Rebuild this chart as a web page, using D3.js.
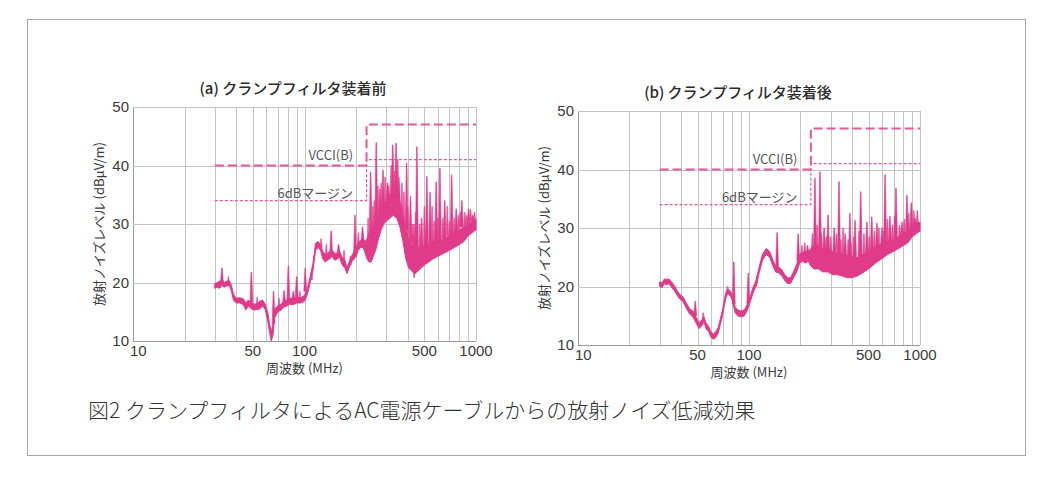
<!DOCTYPE html>
<html><head><meta charset="utf-8">
<script src="https://cdn.jsdelivr.net/npm/d3@7"></script>
<style>body{margin:0;background:#fff}</style>
</head><body><svg id="c" width="1060" height="480"></svg>
<script>
// ---------- data ----------
const xTickValues = [10, 50, 100, 500, 1000];
const xTickLabels = ["10", "50", "100", "500", "1000"];
const yTickValues = [10, 20, 30, 40, 50];
const gridFreqs = [10,20,30,40,50,60,70,80,90,100,200,300,400,500,600,700,800,900,1000];
const vcciFreq = [30, 230, 230, 1000];
const vcciLevel = [40, 40, 47, 47];
const marginFreq = [30, 230, 230, 1000];
const marginLevel = [34, 34, 41, 41];
const titleA = "(a) クランプフィルタ装着前";
const titleB = "(b) クランプフィルタ装着後";
const xTitle = "周波数 (MHz)";
const yTitle = "放射ノイズレベル (dBμV/m)";
const vcciLabel = "VCCI(B)";
const marginLabel = "6dBマージン";
const caption = "図2 クランプフィルタによるAC電源ケーブルからの放射ノイズ低減効果";

// (a) before: noise band (frequency MHz, lower dB, upper dB)
const freqA = [30,31,32,33,34,35,36.5,37.5,38.5,40,42,44,45.5,47,49,51,53,55,57,59,61,62.5,64,65.5,67,70,73,76,79,82,86,90,95,100,104,108,112,116,120,124,128,132,136,140,145,150,155,160,166,172,177,182,188,194,200,206,212,220,226,232,238,245,252,260,270,280,290,300,315,330,345,360,375,390,405,420,440,460,480,500,530,560,600,650,700,750,800,850,900,950,1000];
const loA = [19.0,19.2,19.0,19.5,19.2,19.4,19.5,18.5,17.0,16.5,16.5,16.2,15.3,16.0,15.5,15.3,15.4,15.5,16.0,15.4,13.5,11.5,10.0,11.0,14.0,15.0,15.3,15.8,16.0,16.3,16.2,16.5,16.5,16.8,18.0,20.0,22.0,25.5,26.0,25.5,24.0,23.5,23.8,24.0,24.5,23.8,24.0,24.3,23.0,22.5,21.5,22.5,23.5,24.0,24.5,25.5,26.0,26.0,25.0,24.0,23.5,23.5,24.5,25.5,27.5,29.0,30.0,30.5,31.0,31.5,31.0,29.5,27.0,24.0,22.5,22.0,21.5,22.0,22.5,23.0,23.5,24.0,24.5,25.0,25.5,26.0,26.5,27.0,28.0,28.5,29.0];
const hiA = [19.8,20.0,20.2,20.5,20.0,20.2,20.3,19.5,18.0,17.3,17.4,17.2,16.5,17.0,16.5,16.3,16.4,16.8,17.0,16.3,15.0,13.0,11.5,13.0,15.5,16.0,16.3,16.8,17.0,17.3,17.3,17.5,17.4,17.8,19.0,21.0,23.3,26.7,27.0,26.5,25.3,24.8,25.0,25.3,25.5,25.0,25.0,25.3,24.3,23.8,22.5,23.5,24.5,25.2,26.0,26.8,27.2,27.5,27.0,27.5,28.5,29.0,29.5,30.0,31.0,32.5,33.5,34.0,35.0,35.5,35.5,34.0,31.5,29.0,27.5,26.5,26.0,26.0,26.0,26.5,26.5,27.0,27.0,27.5,28.0,28.5,29.0,29.5,30.0,30.5,30.8];
// (a) tall spikes: frequency, base dB, peak dB
const spikeFreqA = [33,49,66,76,80.5,86,90,101,143,158,197,218,243,262,275,287,305,327,342,355,394,415,435,452,482,517,540,586,616,657,721,767,827,905,955];
const spikeBaseA = [20,16.5,13,16.5,17,17,17.5,18.5,25,25,25,27,28,30,31,32.5,34,35,35,34,29,27,26,26,26,26.5,26.5,27,27,27.5,28,28.5,29.5,30,30.5];
const spikePeakA = [22.5,21.8,18.5,18.6,22.8,18.5,21.0,22.5,28.8,26.5,31.5,29.5,38.9,43.9,36.0,39.2,37.0,43.5,43.8,38.0,40.4,34.7,30.0,43.2,31.0,38.1,35.4,37.2,39.5,34.0,38.4,32.6,34.0,32.6,31.5];
// (a) minor spikes and dips
const minorFreqA = [36,53,71,94,110,125,134,170,185,206,235,250,255,268,280,295,310,320,335,350,370,380,400,425,436,445,470,500,510,555,570,600,640,680,700,745,790,810,860,880,930,980];
const minorBaseA = [19.5,16,15.5,17,20.5,26,24.5,23.5,23,26.5,25,28.5,29,30.5,32,33,34.5,35,35.5,35,32,30,28,26.5,22,26,26,26.5,26.5,27,27,27,27.5,28,28,28.5,29,29.5,29.5,30,30.5,30.8];
const minorPeakA = [21,17.5,17.3,18.5,22,27.5,26.5,25.5,24.5,28.5,31,33,34,36.5,37,38,36.5,40,39,41,37,35.5,33,30,20.8,32,30,33,29,33,30.5,31,31,33,30.5,31,31.5,32,32,31.5,32.5,32];

// (b) after: noise band
const freqB = [30,31,32,33,34,35,36.5,38,39.5,41,43,45,47,49,51,53,54.5,56,58,60,62,64,66,68,70,72,74,76,78,80,83,86,90,94,98,102,106,110,115,120,126,132,138,143,150,156,162,168,175,182,190,198,206,214,222,230,240,255,270,290,310,330,350,375,400,430,460,500,550,600,650,700,750,800,850,900,950,1000];
const loB = [20.0,19.8,20.5,20.3,20.5,20.0,19.3,18.5,17.8,17.5,16.3,15.3,14.8,13.8,12.8,13.3,14.0,12.8,12.3,11.3,11.0,11.3,12.0,13.5,15.0,17.0,18.5,18.7,18.3,17.5,15.5,15.0,14.8,15.0,16.0,17.5,19.0,20.0,22.5,24.5,25.5,25.0,23.5,22.5,22.3,21.8,21.0,20.5,20.5,21.5,22.5,24.0,24.3,24.0,24.3,23.5,23.0,23.0,22.5,22.5,22.0,22.0,21.8,21.5,21.5,21.8,22.3,23.0,24.0,24.8,25.5,26.0,26.5,27.0,27.5,28.5,29.0,29.5];
const hiB = [20.8,20.6,21.3,21.2,21.3,20.9,20.2,19.3,18.6,18.3,17.2,16.2,15.8,14.8,13.8,14.3,14.8,13.8,13.2,12.2,11.9,12.3,13.0,14.5,16.0,18.0,19.4,19.5,19.2,18.5,16.5,16.0,15.8,16.0,17.0,18.5,20.0,21.0,23.5,25.5,26.5,26.0,24.5,23.5,23.3,22.8,22.0,21.5,21.5,22.5,23.8,25.5,25.8,26.0,26.0,26.5,27.0,27.0,26.5,26.5,26.0,25.8,25.5,25.3,25.0,25.0,25.5,26.0,26.8,27.3,27.8,28.0,28.5,29.0,29.5,30.3,30.8,31.0];
// (b) tall spikes
const spikeFreqB = [48.5,81.5,99,146,194,220,243,260,275,290,315,336,365,389,417,450,489,522,560,600,625,667,724,785,839,890,935];
const spikeBaseB = [15,17,17,23.5,24.5,25.5,26,26.5,26,26,25.5,25.5,25.3,25,25,25.3,25.8,26.3,26.8,27.2,27.5,27.8,28.2,28.8,29.2,30,30.5];
const spikePeakB = [17.5,24.2,22.3,29.2,29.0,27.0,38.5,39.6,30.0,32.2,30.0,37.9,29.0,32.5,31.3,36.2,31.0,31.9,30.8,30.0,39.1,32.0,36.8,31.0,35.6,34.3,31.7];
// (b) minor spikes and dips
const minorFreqB = [54,75,111,204,212,235,250,265,283,300,325,345,355,380,395,410,440,470,505,540,575,615,645,690,710,760,810,860,920,965];
const minorBaseB = [14.5,19,20.5,25.5,25.8,26.5,27,26.8,26.5,26.3,26,25.5,25.5,25.3,25,25,25.2,25.7,26,26.5,27,27.3,27.6,28,28,28.5,29,29.5,30.3,30.8];
const minorPeakB = [15.5,20,21.8,27,27.5,29,30.5,29,28.5,28.5,29,28,30,28,27.5,28.5,29.5,29,28.5,29.5,30,29.5,31.5,30.5,32,30.5,31.5,32.5,33,33];

// ---------- drawing ----------
const svg = d3.select("#c");
const traceColor = "#e03a8a";
const limitColor = "#e8579b";
const gridColor = "#c4c4c4";
const textColor = "#3a3a3a";
const numFont = "'Liberation Sans', Arial, sans-serif";
const jpFont = "'Noto Sans CJK JP', 'Noto Sans', sans-serif";

svg.append("rect").attr("x", 27.5).attr("y", 19.5).attr("width", 998).attr("height", 436)
  .attr("fill", "none").attr("stroke", "#a8a8a8").attr("stroke-width", 1);

function panel(opt) {
  const x = d3.scaleLog().domain([10, 1000]).range([opt.x0, opt.x1]);
  const y = d3.scaleLinear().domain([10, 50]).range([opt.y1, opt.y0]);
  const g = svg.append("g");

  // grid
  g.selectAll(".vg").data(gridFreqs).join("line")
    .attr("x1", d => Math.round(x(d)) + 0.5).attr("x2", d => Math.round(x(d)) + 0.5)
    .attr("y1", opt.y0).attr("y2", opt.y1)
    .attr("stroke", d => d === 10 ? "#9a9a9a" : gridColor).attr("stroke-width", 1);
  g.selectAll(".hg").data(yTickValues).join("line")
    .attr("x1", opt.x0).attr("x2", opt.x1)
    .attr("y1", d => Math.round(y(d)) + 0.5).attr("y2", d => Math.round(y(d)) + 0.5)
    .attr("stroke", d => d === 10 ? "#9a9a9a" : gridColor).attr("stroke-width", 1);

  // tick labels
  g.selectAll(".yt").data(yTickValues).join("text")
    .attr("x", opt.x0 - 4).attr("y", d => y(d) + 5)
    .attr("text-anchor", "end").attr("font-family", numFont).attr("font-size", 15)
    .attr("fill", textColor).text(d => d);
  g.selectAll(".xt").data(xTickValues).join("text")
    .attr("x", (d, i) => i === 0 ? x(d) - 3 : x(d))
    .attr("y", opt.y1 + 15)
    .attr("text-anchor", (d, i) => i === 0 ? "start" : "middle")
    .attr("font-family", numFont).attr("font-size", 15)
    .attr("fill", textColor).text((d, i) => xTickLabels[i]);

  // titles
  g.append("text").attr("x", opt.x0 + 160).attr("y", opt.y0 - 13)
    .attr("text-anchor", "middle").attr("font-family", jpFont).attr("font-size", 15)
    .attr("font-weight", 500).attr("fill", "#2a2a2a").text(opt.title);
  g.append("text").attr("x", x(100)).attr("y", opt.y1 + 32)
    .attr("text-anchor", "middle").attr("font-family", jpFont).attr("font-size", 13)
    .attr("fill", textColor).text(xTitle);
  g.append("text")
    .attr("transform", `translate(${opt.x0 - 29},${(opt.y0 + opt.y1) / 2}) rotate(-90)`)
    .attr("text-anchor", "middle").attr("font-family", jpFont).attr("font-size", 13)
    .attr("fill", textColor).text(yTitle);

  // limit lines
  const lineGen = d3.line().x(d => x(d[0])).y(d => y(d[1]));
  g.append("path").datum(marginFreq.map((f, i) => [f, marginLevel[i]]))
    .attr("d", lineGen).attr("fill", "none").attr("stroke", limitColor)
    .attr("stroke-width", 1.2).attr("stroke-dasharray", "3,2");
  g.append("path").datum(vcciFreq.map((f, i) => [f, vcciLevel[i]]))
    .attr("d", lineGen).attr("fill", "none").attr("stroke", limitColor)
    .attr("stroke-width", 2).attr("stroke-dasharray", "9,4");

  // labels
  g.append("text").attr("x", x(192)).attr("y", y(40.9))
    .attr("text-anchor", "end").attr("font-family", jpFont).attr("font-size", 13)
    .attr("fill", "#555").text(vcciLabel);
  g.append("text").attr("x", x(192)).attr("y", y(34.5))
    .attr("text-anchor", "end").attr("font-family", jpFont).attr("font-size", 13)
    .attr("fill", "#555").text(marginLabel);

  // noise band
  const band = opt.freq.map((f, i) => [f, opt.lo[i], opt.hi[i]]);
  const area = d3.area().x(d => x(d[0])).y0(d => y(d[1])).y1(d => y(d[2]));
  g.append("path").datum(band).attr("d", area)
    .attr("fill", traceColor).attr("stroke", traceColor).attr("stroke-width", 1)
    .attr("stroke-linejoin", "round");

  const spikePath = (w) => d => {
    const cx = x(d[0]), yb = y(d[1]), yp = y(d[2]);
    return `M${cx - w},${yb}L${cx - 0.3},${yp}L${cx + 0.3},${yp}L${cx + w},${yb}Z`;
  };
  // minor spikes
  g.selectAll(".mp").data(opt.mf.map((f, i) => [f, opt.mb[i], opt.mp[i]])).join("path")
    .attr("d", spikePath(1.0))
    .attr("fill", traceColor).attr("stroke", traceColor).attr("stroke-width", 0.6)
    .attr("opacity", 0.9);
  // tall spikes
  g.selectAll(".sp").data(opt.sf.map((f, i) => [f, opt.sb[i], opt.sp[i]])).join("path")
    .attr("d", spikePath(1.4))
    .attr("fill", traceColor).attr("stroke", traceColor).attr("stroke-width", 0.6);
}

panel({x0: 133, x1: 476, y0: 107, y1: 341, title: titleA,
  freq: freqA, lo: loA, hi: hiA, sf: spikeFreqA, sb: spikeBaseA, sp: spikePeakA,
  mf: minorFreqA, mb: minorBaseA, mp: minorPeakA});
panel({x0: 578, x1: 920, y0: 111, y1: 345, title: titleB,
  freq: freqB, lo: loB, hi: hiB, sf: spikeFreqB, sb: spikeBaseB, sp: spikePeakB,
  mf: minorFreqB, mb: minorBaseB, mp: minorPeakB});

svg.append("text").attr("x", 88).attr("y", 418)
  .attr("font-family", jpFont).attr("font-size", 21).attr("font-weight", 300)
  .attr("fill", "#333").text(caption);
</script>
</body></html>
